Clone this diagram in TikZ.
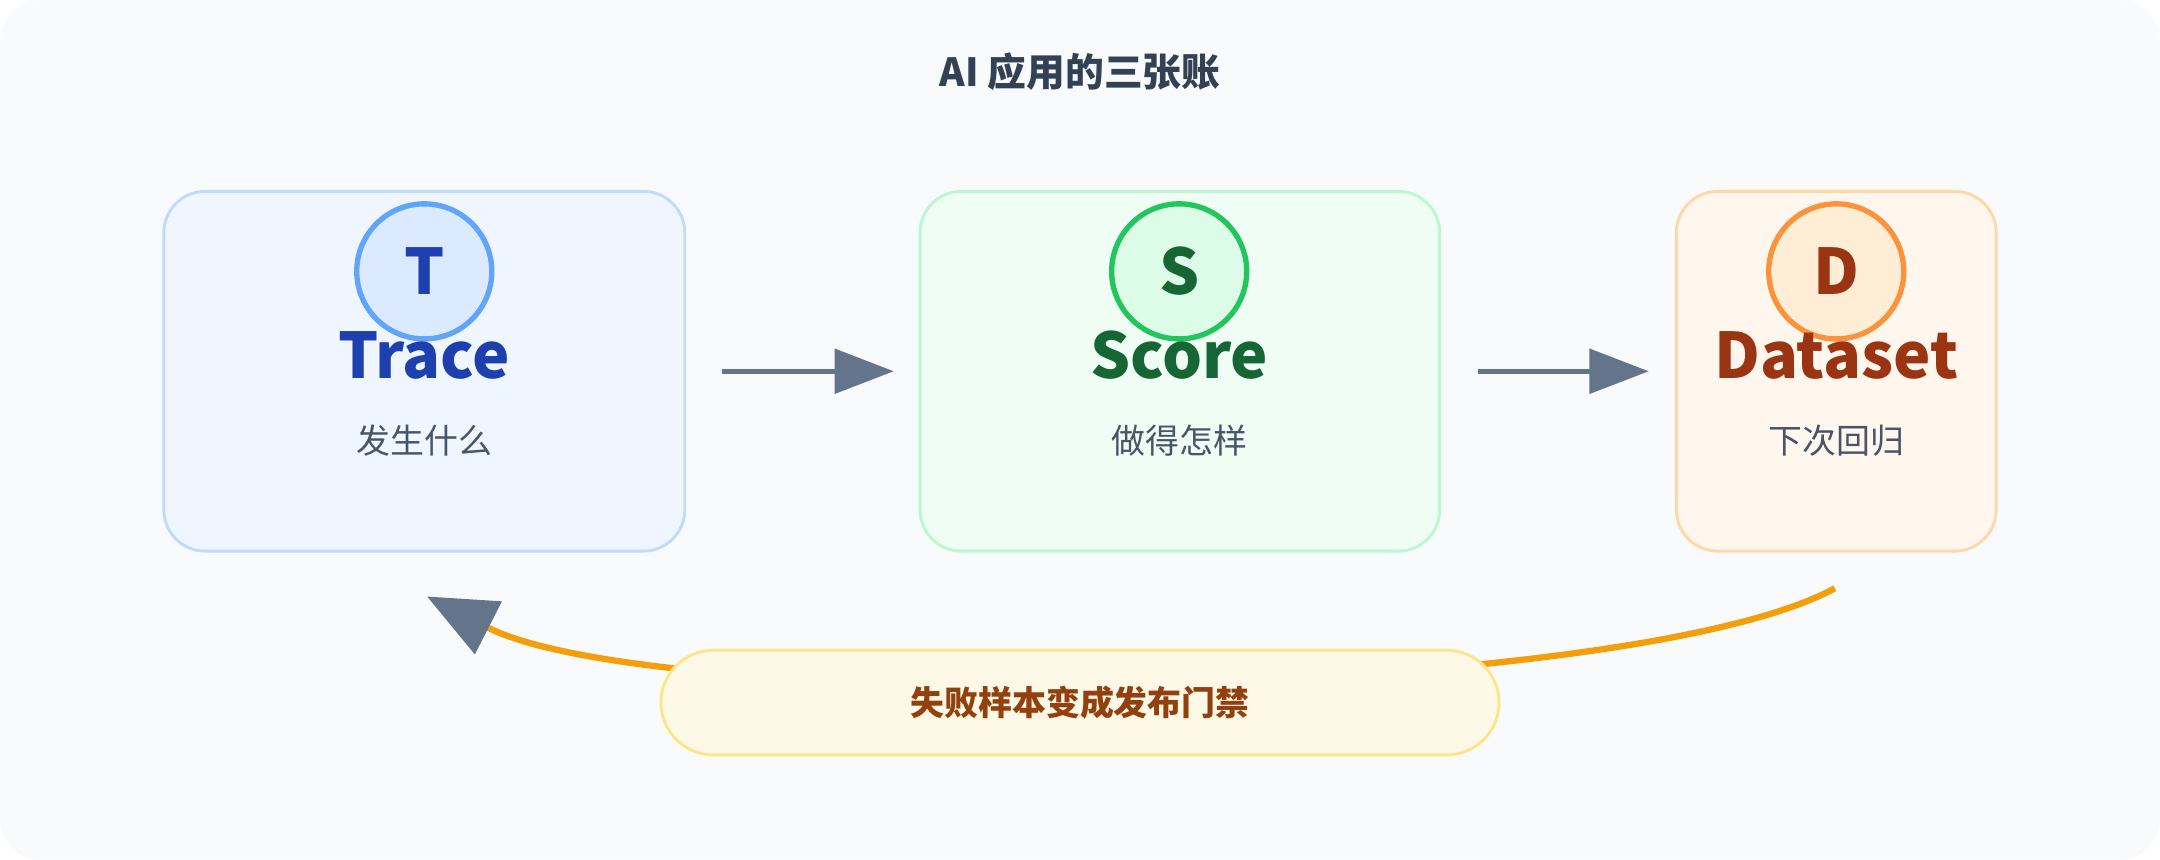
\documentclass[tikz,border=0pt]{standalone}
\usepackage{fontspec}
\setmainfont{Noto Sans CJK SC}
\usepackage{xcolor}
\usetikzlibrary{arrows.meta, positioning}
\definecolor{pagebg}{HTML}{F8FAFC}
\definecolor{titlefg}{HTML}{334155}
\definecolor{subfg}{HTML}{475569}
\definecolor{arrowfg}{HTML}{64748B}
\definecolor{loopfg}{HTML}{F59E0B}
\definecolor{tracebg}{HTML}{EFF6FF}
\definecolor{traceline}{HTML}{BFDBFE}
\definecolor{tracecirc}{HTML}{DBEAFE}
\definecolor{tracering}{HTML}{60A5FA}
\definecolor{tracefg}{HTML}{1E40AF}
\definecolor{scorebg}{HTML}{F0FDF4}
\definecolor{scoreline}{HTML}{BBF7D0}
\definecolor{scorecirc}{HTML}{DCFCE7}
\definecolor{scorering}{HTML}{22C55E}
\definecolor{scorefg}{HTML}{166534}
\definecolor{databg}{HTML}{FFF7ED}
\definecolor{dataline}{HTML}{FED7AA}
\definecolor{datacirc}{HTML}{FFEDD5}
\definecolor{dataring}{HTML}{FB923C}
\definecolor{datafg}{HTML}{9A3412}
\definecolor{gatebg}{HTML}{FEF9E7}
\definecolor{gateline}{HTML}{FDE68A}
\definecolor{gatefg}{HTML}{92400E}

\begin{document}
\begin{tikzpicture}[x=0.01cm, y=-0.01cm,
    box/.style={rectangle, rounded corners=0.3cm, draw, line width=0.6pt, inner sep=0pt},
    badge/.style={circle, draw, line width=1.1pt, minimum size=0.98cm, inner sep=0pt, font=\bfseries\fontsize{13}{13}\selectfont},
    ledger/.style={font=\bfseries\fontsize{13}{13}\selectfont},
    sub/.style={text=subfg, font=\fontsize{7}{7}\selectfont},
    arrow/.style={-{Triangle[length=0.43cm, width=0.32cm]}, line width=1.1pt, arrowfg}
]

\fill[pagebg, rounded corners=0.3cm] (0,0) rectangle (1568,624);
\node[text=titlefg, font=\bfseries\fontsize{8}{8}\selectfont] (title) at (784,52) {AI 应用的三张账};

% three ledgers
\node[box, fill=tracebg, draw=traceline, minimum width=3.78cm, minimum height=2.61cm] (trace) at (308,269.5) {};
\node[badge, fill=tracecirc, draw=tracering, text=tracefg] (tracebadge) at (308,197) {T};
\node[ledger, text=tracefg] (tracename) at (308,258) {Trace};
\node[sub] (tracesub) at (308,320) {发生什么};

\node[box, fill=scorebg, draw=scoreline, minimum width=3.77cm, minimum height=2.61cm] (score) at (856.5,269.5) {};
\node[badge, fill=scorecirc, draw=scorering, text=scorefg] (scorebadge) at (856,197) {S};
\node[ledger, text=scorefg] (scorename) at (856,258) {Score};
\node[sub] (scoresub) at (856,320) {做得怎样};

\node[box, fill=databg, draw=dataline, minimum width=2.32cm, minimum height=2.61cm] (data) at (1333,269.5) {};
\node[badge, fill=datacirc, draw=dataring, text=datafg] (databadge) at (1333,197) {D};
\node[ledger, text=datafg] (dataname) at (1333,258) {Dataset};
\node[sub] (datasub) at (1333,320) {下次回归};

\draw[arrow, shorten <=0.26cm, shorten >=0.18cm] (trace.east) -- (score.west);
\draw[arrow, shorten <=0.27cm, shorten >=0.19cm] (score.east) -- (data.west);

% feedback loop
\coordinate (loopstart) at (1332,427);
\coordinate (loopend) at (310,433);
\draw[loopfg, line width=1.3pt, -{Triangle[length=0.5cm, width=0.42cm, fill=arrowfg, color=arrowfg]}]
    (loopstart) .. controls (1180,510) and (480,520) .. (loopend);

\node[box, rounded corners=0.38cm, fill=gatebg, draw=gateline, minimum width=6.08cm, minimum height=0.76cm,
    text=gatefg, font=\bfseries\fontsize{7}{7}\selectfont] (gate) at (784,510) {失败样本变成发布门禁};

\end{tikzpicture}
\end{document}
